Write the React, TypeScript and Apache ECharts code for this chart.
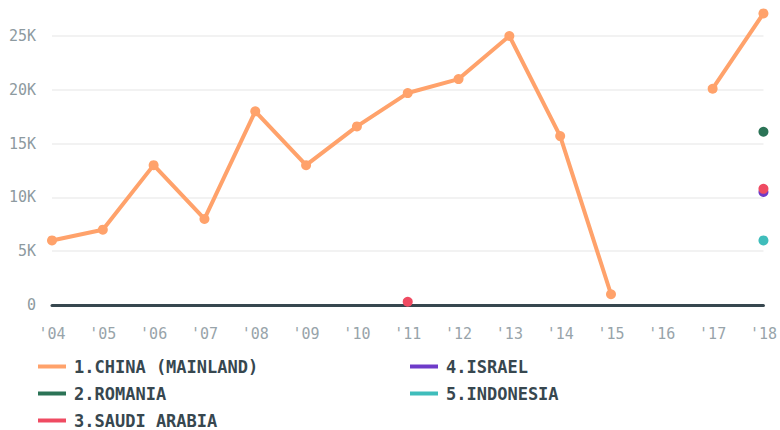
import React, { useEffect, useRef } from "react";
import * as echarts from "echarts";

const years = ["'04", "'05", "'06", "'07", "'08", "'09", "'10", "'11", "'12", "'13", "'14", "'15", "'16", "'17", "'18"];
const china = [6000, 7000, 13000, 8000, 18000, 13000, 16600, 19700, 21000, 25000, 15700, 1000, null, 20100, 27100];
const romania = [null, null, null, null, null, null, null, null, null, null, null, null, null, null, 16100];
const saudi = [null, null, null, null, null, null, null, 300, null, null, null, null, null, null, 10800];
const israel = [null, null, null, null, null, null, null, null, null, null, null, null, null, null, 10500];
const indonesia = [null, null, null, null, null, null, null, null, null, null, null, null, null, null, 6000];
const seriesNames = ["1.CHINA (MAINLAND)", "2.ROMANIA", "3.SAUDI ARABIA", "4.ISRAEL", "5.INDONESIA"];
const colors = ["#ffa26b", "#2b7356", "#ef4b62", "#6e3bc9", "#3fbdbb"];

export default function App() {
  const ref = useRef<HTMLDivElement>(null);
  useEffect(() => {
    const chart = echarts.init(ref.current!, null, { renderer: "svg" });
    const datas = [china, romania, saudi, israel, indonesia];
    const legendText = {
      fontFamily: "DejaVu Sans Mono",
      fontWeight: "bold" as const,
      fontSize: 17,
      color: "#37474f",
      padding: [0, 0, 0, 3],
    };
    const legendPos = [
      [38, 368],
      [38, 395],
      [38, 422],
      [410, 368],
      [410, 395],
    ];
    chart.setOption({
      animation: false,
      color: colors,
      grid: { left: 52, right: 15, top: 13, bottom: 125 },
      legend: seriesNames.map((n, i) => ({
        data: [n],
        left: legendPos[i][0] - 5,
        top: legendPos[i][1] - 15,
        icon: "rect",
        itemWidth: 28,
        itemHeight: 4,
        textStyle: legendText,
      })),
      xAxis: {
        type: "category",
        data: years,
        boundaryGap: false,
        axisLine: { lineStyle: { color: "#37474f", width: 3 } },
        axisTick: { show: false },
        axisLabel: {
          margin: 21,
          color: "#98a4aa",
          fontFamily: "DejaVu Sans Mono",
          fontSize: 15,
        },
      },
      yAxis: {
        type: "value",
        min: 0,
        max: 27140,
        interval: 5000,
        axisLine: { show: false },
        axisTick: { show: false },
        splitLine: { showMaxLine: false, lineStyle: { color: "#eeeeee", width: 1.5 } },
        axisLabel: {
          margin: 16,
          showMaxLabel: false,
          color: "#8d9aa0",
          fontFamily: "DejaVu Sans Mono",
          fontSize: 15,
          formatter: (v: number) => (v === 0 ? "0" : v / 1000 + "K"),
        },
      },
      series: datas.map((d, i) => ({
        name: seriesNames[i],
        type: "line",
        data: d,
        symbol: "circle",
        symbolSize: 10,
        showSymbol: true,
        connectNulls: false,
        clip: false,
        lineStyle: { width: 4, color: colors[i] },
        itemStyle: { color: colors[i] },
        z: 10 - i,
      })),
    });
    return () => chart.dispose();
  }, []);
  return <div ref={ref} style={{ width: 780, height: 430, position: "absolute", left: 0, top: 0 }} />;
}
